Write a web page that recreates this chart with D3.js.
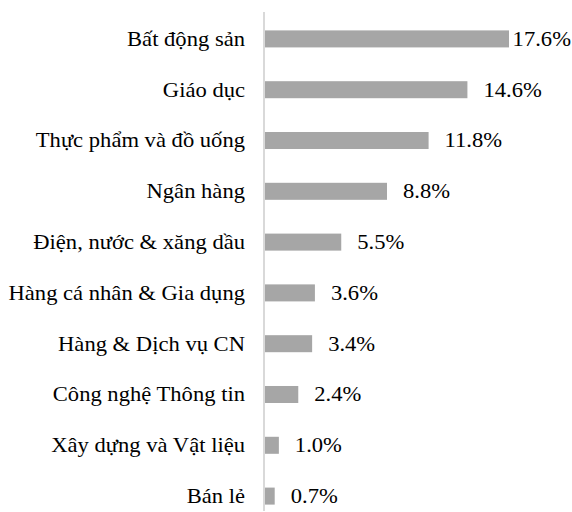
<!DOCTYPE html>
<html>
<head>
<meta charset="utf-8">
<script src="https://cdn.jsdelivr.net/npm/d3@7"></script>
<style>
  body { margin: 0; background: #fff; }
</style>
</head>
<body>
<div class="container"></div>
<script>
// sector shares, top to bottom
var categories = ["Bất động sản", "Giáo dục", "Thực phẩm và đồ uống", "Ngân hàng",
    "Điện, nước & xăng dầu", "Hàng cá nhân & Gia dụng", "Hàng & Dịch vụ CN",
    "Công nghệ Thông tin", "Xây dựng và Vật liệu", "Bán lẻ"];
var values = [17.6, 14.6, 11.8, 8.8, 5.5, 3.6, 3.4, 2.4, 1.0, 0.7];

var width = 572;
var height = 512;
var axisX = 264;
var font = "'Liberation Serif', 'Times New Roman', serif";
var fontSize = 20;
var stretch = 1.13; // the source text is a bit wider than plain Times

var svg = d3.select(".container")
    .append("svg")
    .attr("width", width)
    .attr("height", height);

var x = d3.scaleLinear()
    .domain([0, 17.6])
    .range([axisX + 1, 509]);

var y = d3.scaleBand()
    .domain(categories)
    .range([5, 530])
    .paddingInner(0.665)
    .paddingOuter(0.5);

// vertical axis line
svg.append("line")
    .attr("x1", axisX).attr("x2", axisX)
    .attr("y1", 12).attr("y2", 511)
    .attr("stroke", "#d9d9d9")
    .attr("stroke-width", 2);

var row = svg.selectAll("g.row")
    .data(categories)
    .enter()
    .append("g")
    .attr("class", "row");

row.append("rect")
    .attr("x", x(0))
    .attr("y", function(d) { return y(d); })
    .attr("height", y.bandwidth())
    .attr("width", function(d, i) { return x(values[i]) - x(0); })
    .attr("fill", "#a6a6a6");

row.append("text")
    .attr("transform", function(d) {
        return "translate(245," + (y(d) + y.bandwidth() / 2) + ") scale(" + stretch + ",1)";
    })
    .attr("dy", "0.34em")
    .attr("text-anchor", "end")
    .attr("font-family", font)
    .attr("font-size", fontSize)
    .attr("fill", "#000")
    .text(function(d) { return d; });

row.append("text")
    .attr("class", "val")
    .attr("dy", "0.34em")
    .attr("font-family", font)
    .attr("font-size", fontSize)
    .attr("fill", "#000")
    .text(function(d, i) { return values[i].toFixed(1) + "%"; })
    .attr("transform", function(d, i) {
        // keep the label inside the page when the bar is long
        var w = this.getComputedTextLength() * stretch;
        var lx = Math.min(x(values[i]) + 16, width - 1 - w);
        return "translate(" + lx + "," + (y(d) + y.bandwidth() / 2) + ") scale(" + stretch + ",1)";
    });
</script>
</body>
</html>
